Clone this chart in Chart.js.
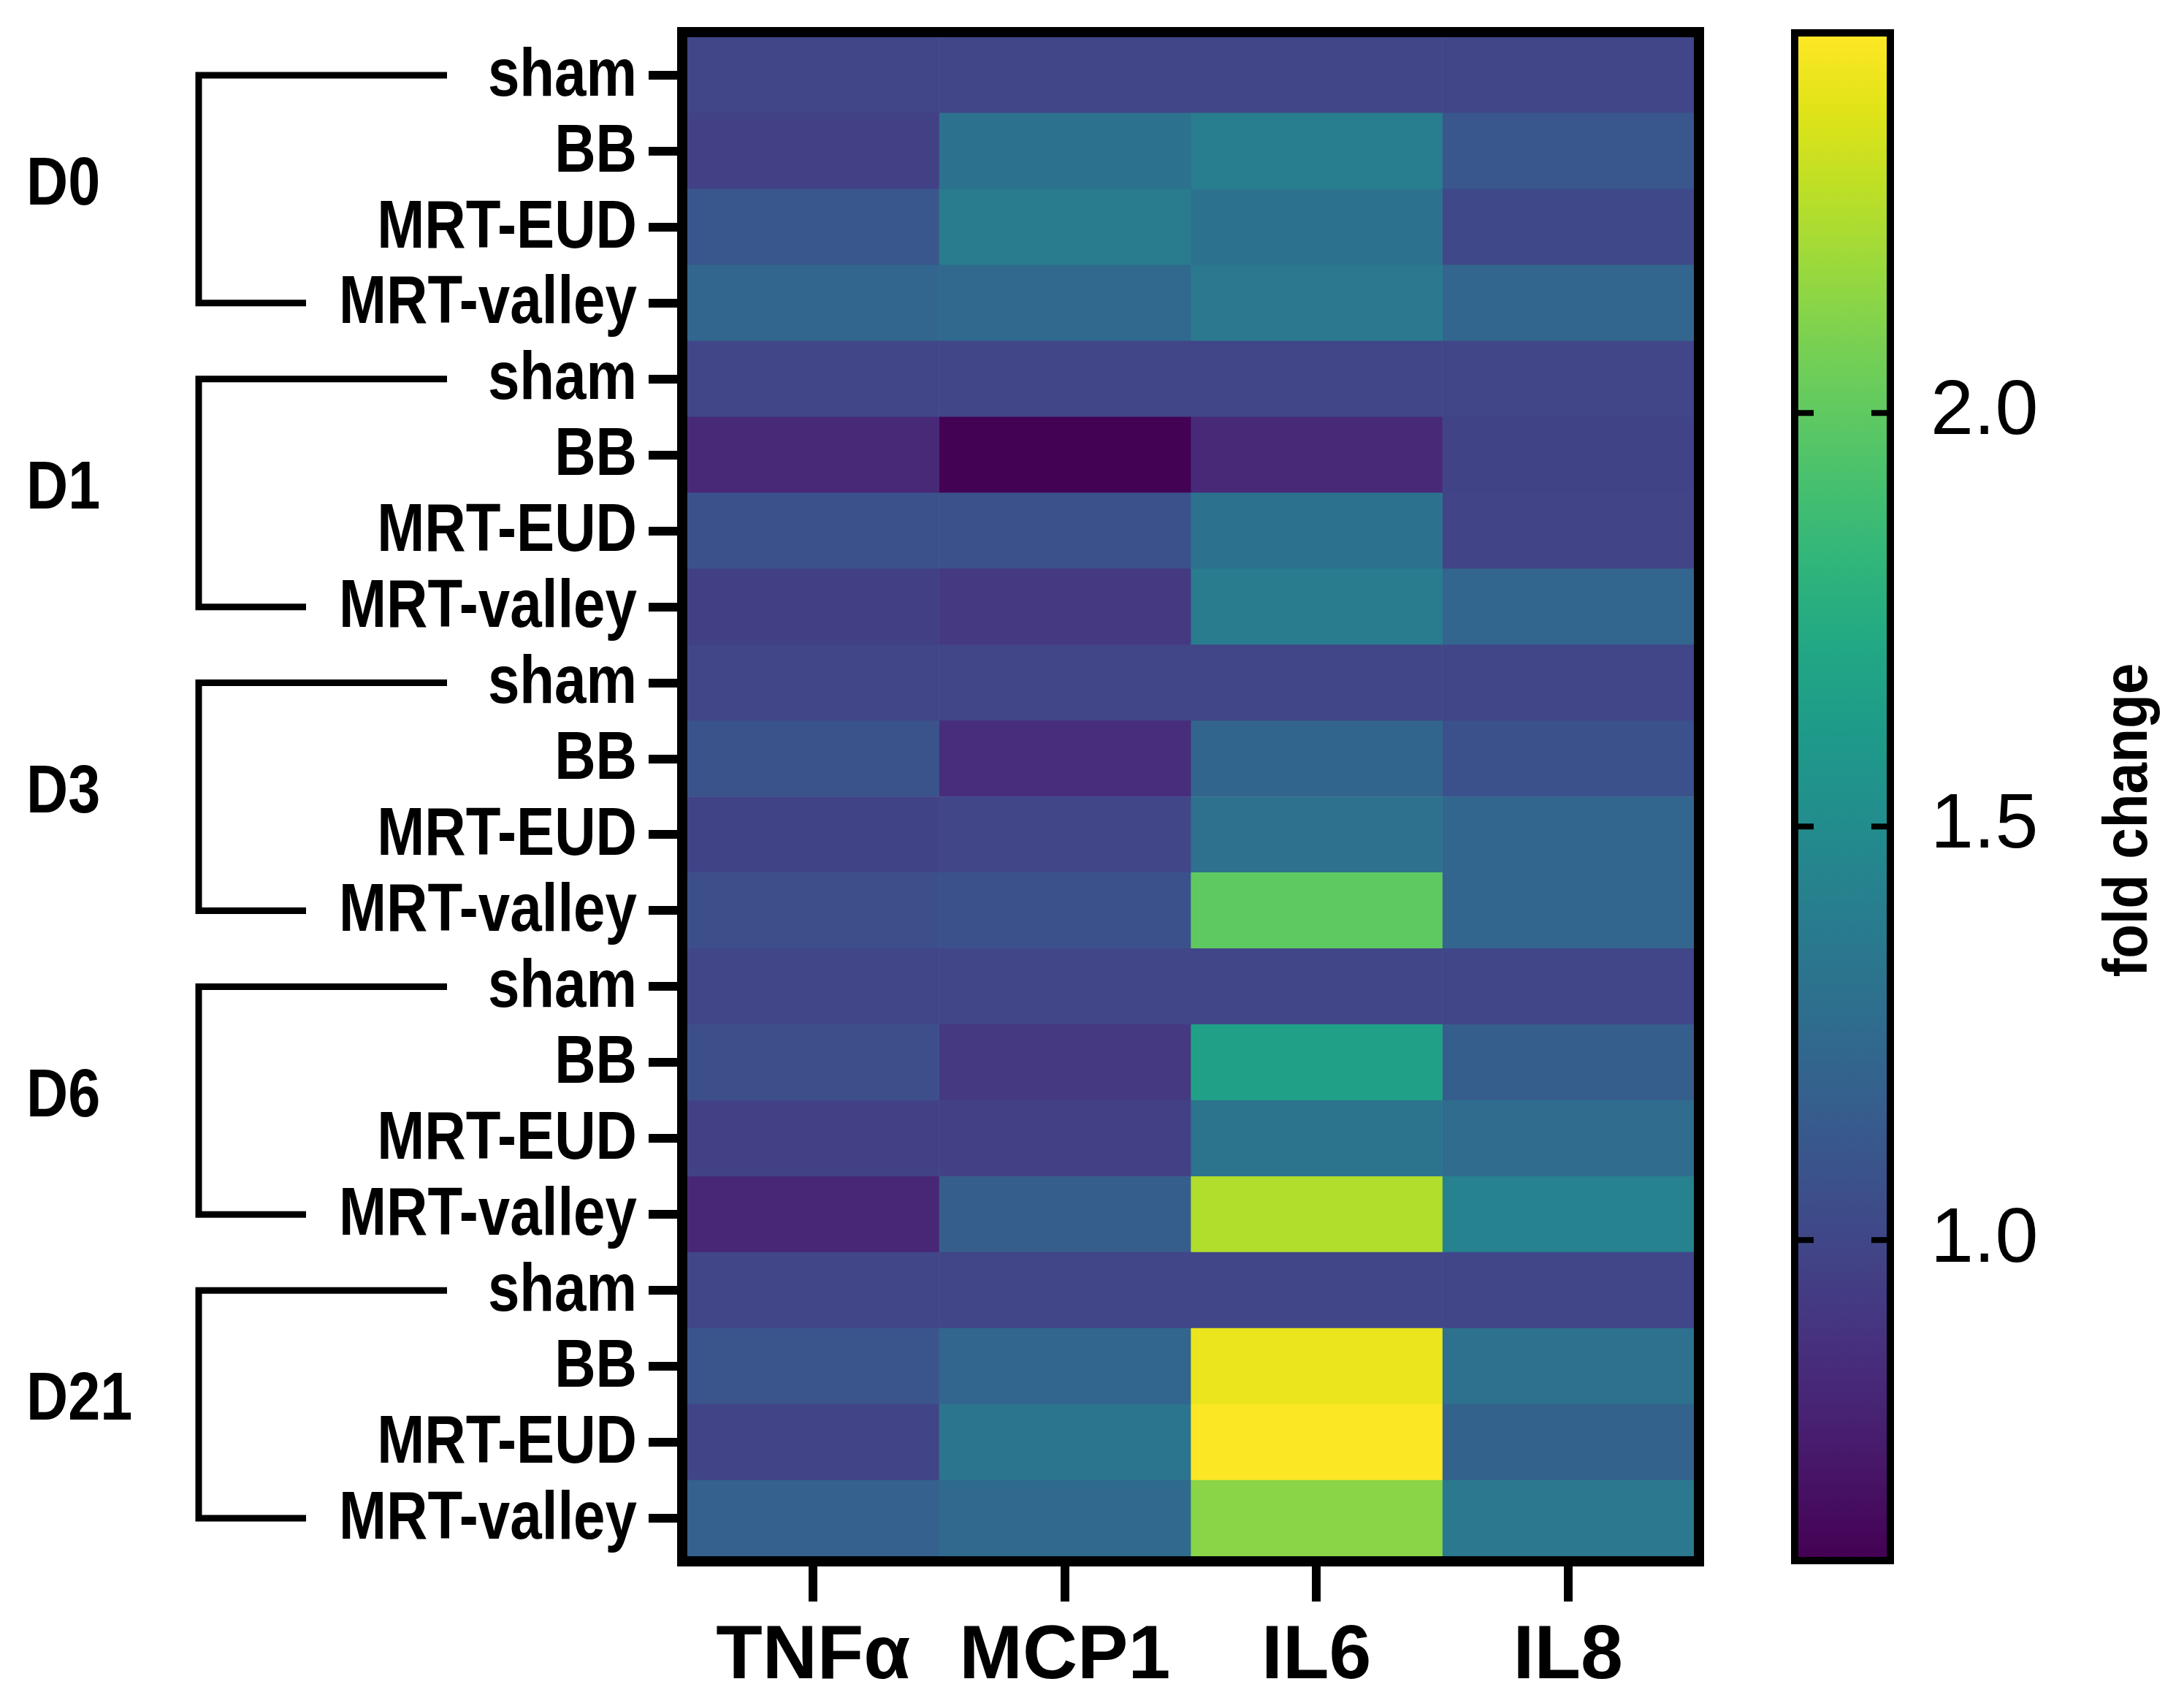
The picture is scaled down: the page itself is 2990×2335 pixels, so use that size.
<!DOCTYPE html>
<html>
<head>
<meta charset="utf-8">
<script src="https://cdn.jsdelivr.net/npm/chart.js@4/dist/chart.umd.min.js"></script>
<style>
  html, body { margin: 0; padding: 0; background: #fff; }
  #wrap { position: relative; width: 2990px; height: 2335px; overflow: hidden; }
  canvas { position: absolute; top: 0; }
  #heat { left: 0; }
  #bar { left: 2400px; }
</style>
</head>
<body>
<div id="wrap">
  <canvas id="heat" width="2440" height="2335"></canvas>
  <canvas id="bar" width="590" height="2335"></canvas>
</div>
<script>
// Fold-change heatmap with a viridis colour bar.

const GENES = ['TNFα', 'MCP1', 'IL6', 'IL8'];
const GROUPS = ['D0', 'D1', 'D3', 'D6', 'D21'];
const TREATMENTS = ['sham', 'BB', 'MRT-EUD', 'MRT-valley'];
const ROW_LABELS = GROUPS.flatMap(() => TREATMENTS);

// one value per row, top to bottom (D0 sham ... D21 MRT-valley)
const TNFA = [1.00, 0.97, 1.11, 1.22, 1.00, 0.83, 1.07, 0.96, 1.00, 1.09, 0.98, 1.06, 1.00, 1.06, 0.97, 0.82, 1.00, 1.10, 0.99, 1.18];
const MCP1 = [1.00, 1.31, 1.38, 1.23, 1.00, 0.62, 1.07, 0.92, 1.00, 0.85, 1.00, 1.07, 1.00, 0.92, 0.97, 1.16, 1.00, 1.22, 1.33, 1.24];
const IL6  = [1.00, 1.39, 1.31, 1.36, 1.00, 0.83, 1.31, 1.38, 1.00, 1.21, 1.30, 2.00, 1.00, 1.67, 1.32, 2.24, 1.00, 2.40, 2.45, 2.13];
const IL8  = [1.00, 1.11, 1.02, 1.22, 1.00, 0.98, 0.99, 1.22, 1.00, 1.07, 1.22, 1.22, 1.00, 1.16, 1.26, 1.43, 1.00, 1.30, 1.20, 1.36];
const SERIES = [TNFA, MCP1, IL6, IL8];

const VMIN = 0.617, VMAX = 2.455;
const CB_TICKS = [1.0, 1.5, 2.0];
const CB_TITLE = 'fold change';

// viridis, 21 stops
const VIRIDIS = ['#440154','#471365','#482475','#463480','#414487','#3b528b','#355f8d','#2f6c8e','#2a788e','#25848e',
                 '#21918c','#1e9c89','#22a884','#2fb47c','#44bf70','#5ec962','#7ad151','#9bd93c','#bddf26','#dfe318','#fde725'];

const SANS = '"Liberation Sans", Arial, sans-serif';

function hexRgb(h) {
  return [1, 3, 5].map(i => parseInt(h.slice(i, i + 2), 16));
}
function viridis(v) {
  let t = (v - VMIN) / (VMAX - VMIN);
  t = Math.max(0, Math.min(1, t)) * (VIRIDIS.length - 1);
  const i = Math.min(Math.floor(t), VIRIDIS.length - 2);
  const f = t - i;
  const a = hexRgb(VIRIDIS[i]), b = hexRgb(VIRIDIS[i + 1]);
  const c = a.map((x, k) => Math.round(x + (b[k] - x) * f));
  return `rgb(${c[0]},${c[1]},${c[2]})`;
}

// The source figure uses a condensed bold face; squeeze text horizontally.
function narrowText(ctx, text, x, y, size, sx, align) {
  ctx.save();
  ctx.translate(x, y);
  ctx.scale(sx, 1);
  ctx.font = `bold ${size}px ${SANS}`;
  ctx.textAlign = align;
  ctx.textBaseline = 'middle';
  ctx.fillText(text, 0, 0);
  ctx.restore();
}

function noPad(s) {
  s.paddingTop = 0; s.paddingBottom = 0; s.paddingLeft = 0; s.paddingRight = 0;
}

// ── Heatmap ────────────────────────────────────────────────────────────────

const heatDecor = {
  id: 'heatDecor',
  afterDraw(chart) {
    const { ctx, chartArea: a, scales } = chart;
    ctx.save();
    ctx.fillStyle = '#000';
    ctx.strokeStyle = '#000';
    // frame
    ctx.lineWidth = 14;
    ctx.strokeRect(a.left - 7, a.top - 7, a.right - a.left + 14, a.bottom - a.top + 14);
    // row labels
    ROW_LABELS.forEach((lab, i) => narrowText(ctx, lab, 872, scales.y.getPixelForValue(i) + 2, 93, 0.84, 'right'));
    // group brackets + labels
    ctx.lineWidth = 9;
    ctx.lineJoin = 'miter';
    GROUPS.forEach((g, gi) => {
      const y0 = scales.y.getPixelForValue(gi * 4);
      const y1 = scales.y.getPixelForValue(gi * 4 + 3);
      ctx.beginPath();
      ctx.moveTo(612, y0);
      ctx.lineTo(272, y0);
      ctx.lineTo(272, y1);
      ctx.lineTo(419, y1);
      ctx.stroke();
      narrowText(ctx, g, 36, scales.y.getPixelForValue(gi * 4 + 1.5) - 4, 92, 0.86, 'left');
    });
    ctx.restore();
  }
};

new Chart(document.getElementById('heat'), {
  type: 'bar',
  data: {
    labels: ROW_LABELS,
    datasets: SERIES.map((vals, ci) => ({
      label: GENES[ci],
      data: vals.map(() => [ci, ci + 1]),
      backgroundColor: vals.map(viridis),
      borderWidth: 0,
      barPercentage: 1,
      categoryPercentage: 1,
      grouped: false,
    })),
  },
  options: {
    indexAxis: 'y',
    responsive: false,
    animation: false,
    devicePixelRatio: 1,
    layout: { padding: { left: 0, top: 51, right: 121, bottom: 0 } },
    plugins: { legend: { display: false }, tooltip: { enabled: false } },
    scales: {
      y: {
        type: 'category',
        offset: true,
        afterFit: s => { s.width = 941; noPad(s); },
        border: { display: false },
        grid: { offset: false, drawOnChartArea: false, tickLength: 53, lineWidth: 12, color: '#000' },
        ticks: { display: false, autoSkip: false },
      },
      x: {
        type: 'linear',
        min: 0,
        max: GENES.length,
        afterFit: s => { s.height = 205; noPad(s); },
        afterBuildTicks: s => { s.ticks = GENES.map((g, i) => ({ value: i + 0.5 })); },
        border: { display: false },
        grid: { drawOnChartArea: false, tickLength: 62, lineWidth: 12, color: '#000' },
        ticks: {
          color: '#000', padding: 14, maxRotation: 0, autoSkip: false,
          font: { family: SANS, size: 104, weight: 'bold' },
          callback: (v, i) => GENES[i],
        },
      },
    },
  },
  plugins: [heatDecor],
});

// ── Colour bar ─────────────────────────────────────────────────────────────

const barDecor = {
  id: 'barDecor',
  afterDraw(chart) {
    const { ctx, chartArea: a, scales } = chart;
    ctx.save();
    ctx.strokeStyle = '#000';
    ctx.fillStyle = '#000';
    ctx.lineWidth = 8;
    CB_TICKS.forEach(v => {
      const y = scales.y.getPixelForValue(v);
      ctx.beginPath();
      ctx.moveTo(a.left, y); ctx.lineTo(a.left + 21, y);
      ctx.moveTo(a.right - 21, y); ctx.lineTo(a.right, y);
      ctx.stroke();
    });
    ctx.lineWidth = 10;
    ctx.strokeRect(a.left - 5, a.top - 5, a.right - a.left + 10, a.bottom - a.top + 10);
    // axis title, reading bottom to top
    ctx.translate(515, (a.top + a.bottom) / 2 + 32);
    ctx.rotate(-Math.PI / 2);
    narrowText(ctx, CB_TITLE, 0, 0, 86, 0.89, 'center');
    ctx.restore();
  }
};

new Chart(document.getElementById('bar'), {
  type: 'bar',
  data: {
    labels: [''],
    datasets: [{
      data: [[VMIN, VMAX]],
      barPercentage: 1,
      categoryPercentage: 1,
      borderWidth: 0,
      backgroundColor: c => {
        const { chart } = c;
        if (!chart.chartArea) return '#21918c';
        const y = chart.scales.y;
        const g = chart.ctx.createLinearGradient(0, y.getPixelForValue(VMIN), 0, y.getPixelForValue(VMAX));
        VIRIDIS.forEach((col, i) => g.addColorStop(i / (VIRIDIS.length - 1), col));
        return g;
      },
    }],
  },
  options: {
    responsive: false,
    animation: false,
    devicePixelRatio: 1,
    layout: { padding: { left: 62, top: 50, right: 0, bottom: 204 } },
    plugins: { legend: { display: false }, tooltip: { enabled: false } },
    scales: {
      x: { display: false },
      y: {
        position: 'right',
        min: VMIN,
        max: VMAX,
        afterFit: s => { s.width = 407; noPad(s); },
        afterBuildTicks: s => { s.ticks = CB_TICKS.map(v => ({ value: v })); },
        border: { display: false },
        grid: { display: true, drawOnChartArea: false, drawTicks: false },
        ticks: {
          color: '#000', padding: 60,
          font: { family: SANS, size: 106 },
          callback: v => v.toFixed(1),
        },
      },
    },
  },
  plugins: [barDecor],
});
</script>
</body>
</html>
